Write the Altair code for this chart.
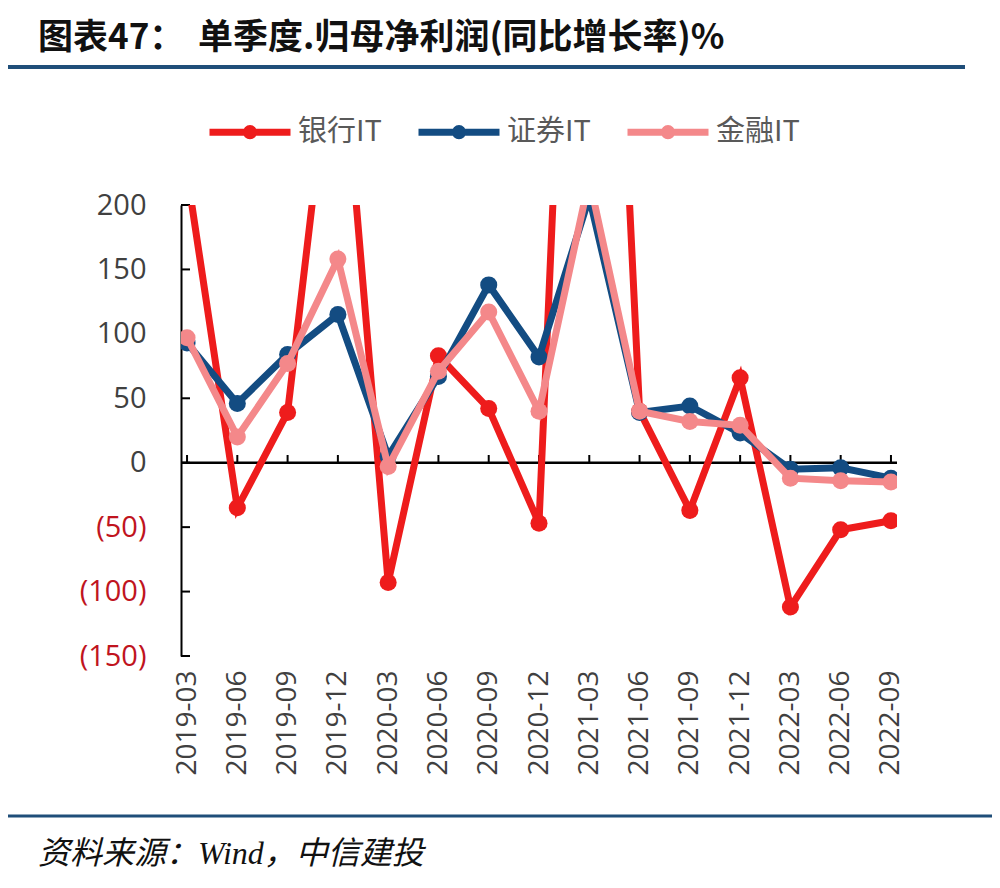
import altair as alt
import pandas as pd

quarters = ["2019-03", "2019-06", "2019-09", "2019-12", "2020-03", "2020-06", "2020-09",
            "2020-12", "2021-03", "2021-06", "2021-09", "2021-12", "2022-03", "2022-06", "2022-09"]
bank_it = [225, -35, 39, 370, -93, 83, 42, -47, 850, 40, -37, 66, -112, -52, -45]
securities_it = [93, 46, 84, 115, 5, 67, 138, 82, 206, 39, 44, 23, -5, -4, -12]
finance_it = [97, 20, 77, 158, -3, 71, 117, 40, 220, 40, 32, 29, -12, -14, -15]

series_names = ["银行IT", "证券IT", "金融IT"]
series_colors = ["#EE1C1C", "#134C82", "#F4888A"]
y_ticks = [-150, -100, -50, 0, 50, 100, 150, 200]

title_left = "图表47："
title_right = "单季度.归母净利润(同比增长率)%"
source_text = "资料来源：Wind，中信建投"

rows = []
for name, vals in zip(series_names, [bank_it, securities_it, finance_it]):
    for q, v in zip(quarters, vals):
        rows.append({"quarter": q, "series": name, "value": v})
df = pd.DataFrame(rows)

x_enc = alt.X("quarter:O", sort=quarters,
              scale=alt.Scale(type="point", padding=0.12),
              axis=alt.Axis(title=None, labelAngle=270, domain=False, ticks=False,
                            labelFontSize=28, labelFont="Open Sans", labelColor="#404040",
                            labelPadding=14, labelAlign="right", labelBaseline="middle"))
y_enc = alt.Y("value:Q",
              scale=alt.Scale(domain=[-150, 200], nice=False, zero=False),
              axis=alt.Axis(title=None, values=y_ticks, grid=False, tickSize=0,
                            domainColor="black", domainWidth=2, labelPadding=35,
                            labelFontSize=29, labelFont="Open Sans",
                            labelExpr="datum.value < 0 ? '(' + format(abs(datum.value), 'd') + ')' : format(datum.value, 'd')",
                            labelColor={"condition": {"test": "datum.value < 0", "value": "#C0141E"},
                                        "value": "#404040"}))

legend_path = "M-1,0L1,0M0.09,0A0.09,0.09,0,1,1,-0.09,0A0.09,0.09,0,1,1,0.09,0"
color_enc = alt.Color("series:N",
                      scale=alt.Scale(domain=series_names, range=series_colors),
                      legend=alt.Legend(title=None, orient="none", legendX=25, legendY=-117,
                                        direction="horizontal", symbolType=legend_path,
                                        symbolSize=6561, symbolStrokeWidth=7,
                                        labelFontSize=29, labelFont="Noto Sans CJK SC",
                                        labelColor="#595959", columnPadding=22,
                                        labelOffset=4, symbolOpacity=1))

base = alt.Chart(df)
layers = []

zero_line = alt.Chart(pd.DataFrame({"a": [0]})).mark_rule(color="black", strokeWidth=2.5).encode(
    y=alt.datum(0))
zero_ticks = alt.Chart(pd.DataFrame({"quarter": quarters})).mark_rule(color="black", strokeWidth=2).encode(
    x=x_enc, y=alt.datum(0), y2=alt.datum(6))
y_inner_ticks = alt.Chart(pd.DataFrame({"value": y_ticks})).mark_rule(color="black", strokeWidth=2).encode(
    y=y_enc, x=alt.value(0), x2=alt.value(9))
layers += [zero_line, zero_ticks, y_inner_ticks]

for name in series_names:
    sub = base.transform_filter(alt.datum.series == name)
    layers.append(sub.mark_line(strokeWidth=7, clip=True).encode(x=x_enc, y=y_enc, color=color_enc))
    layers.append(sub.mark_circle(size=290, opacity=1, clip=True).encode(x=x_enc, y=y_enc, color=color_enc))

one = pd.DataFrame({"a": [0]})
title_l = alt.Chart(pd.DataFrame({"t": [title_left]})).mark_text(
    align="left", baseline="alphabetic", font="Noto Sans CJK SC", fontWeight="bold",
    fontSize=35, color="#111111").encode(x=alt.value(-143), y=alt.value(-156), text="t:N")
title_r = alt.Chart(pd.DataFrame({"t": [title_right]})).mark_text(
    align="left", baseline="alphabetic", font="Noto Sans CJK SC", fontWeight="bold",
    fontSize=35, color="#111111").encode(x=alt.value(17), y=alt.value(-156), text="t:N")
top_rule = alt.Chart(one).mark_rule(color="#1F4E79", strokeWidth=4).encode(
    x=alt.value(-181), x2=alt.value(784), y=alt.value(-138))
bottom_rule = alt.Chart(one).mark_rule(color="#1F4E79", strokeWidth=3).encode(
    x=alt.value(-181), x2=alt.value(814), y=alt.value(611))
source = alt.Chart(pd.DataFrame({"t": [source_text]})).mark_text(
    align="left", baseline="alphabetic", font="Liberation Serif, Noto Sans CJK SC",
    fontStyle="italic", fontSize=32, color="#111111").encode(
    x=alt.value(-143), y=alt.value(659), text="t:N")
layers += [title_l, title_r, top_rule, bottom_rule, source]

chart = alt.layer(*layers).properties(
    width=716, height=451,
    padding={"left": 173, "top": 197, "right": 95, "bottom": 224},
    autosize=alt.AutoSizeParams(type="none"),
).configure_view(stroke=None)

chart.save("out.html", embed_options={"renderer": "svg", "actions": False})
